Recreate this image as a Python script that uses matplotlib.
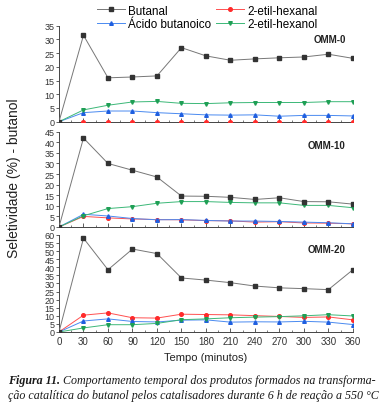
import matplotlib
matplotlib.use("Agg")
import matplotlib.pyplot as plt
from matplotlib.ticker import MultipleLocator

tempo = [0, 30, 60, 90, 120, 150, 180, 210, 240, 270, 300, 330, 360]
series_names = ["Butanal", "2-etil-hexanal", "Ácido butanoico", "2-etil-hexanol"]
panels = ["OMM-0", "OMM-10", "OMM-20"]
ymax = [35, 45, 60]

omm0_butanal = [0, 31.5, 16.0, 16.3, 16.7, 27.0, 24.0, 22.4, 22.9, 23.3, 23.6, 24.6, 23.1]
omm0_hexanal = [0, 0, 0, 0, 0, 0, 0, 0, 0, 0, 0, 0, 0]
omm0_acido = [0, 3.3, 3.9, 3.9, 3.3, 2.9, 2.5, 2.4, 2.5, 2.0, 2.3, 2.3, 2.1]
omm0_hexanol = [0, 4.3, 6.0, 7.2, 7.4, 6.7, 6.6, 6.9, 7.0, 7.0, 7.0, 7.3, 7.3]

omm10_butanal = [0, 42.0, 30.0, 26.8, 23.6, 14.6, 14.5, 14.0, 13.0, 13.8, 12.0, 11.9, 10.8]
omm10_hexanal = [0, 5.0, 4.3, 3.8, 3.5, 3.4, 3.0, 2.9, 2.3, 2.5, 1.9, 1.8, 1.5]
omm10_acido = [0, 6.0, 5.2, 4.0, 3.4, 3.5, 3.1, 2.8, 2.8, 2.6, 2.3, 2.0, 1.5]
omm10_hexanol = [0, 5.3, 8.7, 9.6, 11.2, 12.0, 12.0, 11.6, 11.4, 11.4, 10.2, 10.2, 9.1]

omm20_butanal = [0, 58.0, 38.5, 51.3, 48.5, 33.4, 32.1, 30.5, 28.4, 27.3, 26.8, 26.2, 38.5]
omm20_hexanal = [0, 10.4, 11.8, 8.8, 8.6, 11.0, 10.8, 10.6, 10.1, 9.6, 9.0, 9.3, 7.5]
omm20_acido = [0, 6.8, 8.1, 6.5, 6.2, 7.3, 7.5, 6.1, 6.3, 6.2, 6.6, 6.1, 4.6]
omm20_hexanol = [0, 2.5, 4.5, 4.5, 5.3, 7.6, 8.1, 8.8, 9.2, 9.5, 10.0, 10.7, 9.9]

data = [
    [omm0_butanal, omm0_hexanal, omm0_acido, omm0_hexanol],
    [omm10_butanal, omm10_hexanal, omm10_acido, omm10_hexanol],
    [omm20_butanal, omm20_hexanal, omm20_acido, omm20_hexanol],
]

line_colors = ["#777777", "#ff5050", "#4a8af0", "#3cb878"]
marker_colors = ["#333333", "#ff2a2a", "#1f5fe0", "#1f9f55"]
markers = ["s", "o", "^", "v"]

plt.rcParams["font.family"] = ["Liberation Sans", "DejaVu Sans"]

fig = plt.figure(figsize=(3.84, 4.14), dpi=100)
left, right = 0.1536, 0.919
boxes = [(0.7036, 0.9355), (0.4493, 0.6795), (0.1957, 0.430)]
axes = []
for i, (b, t) in enumerate(boxes):
    ax = fig.add_axes([left, b, right - left, t - b])
    axes.append(ax)
    for j in range(4):
        ax.plot(tempo, data[i][j], color=line_colors[j], lw=0.7,
                marker=markers[j], ms=2.6, mfc=marker_colors[j], mec=marker_colors[j],
                label=series_names[j], zorder=3 if j else 4)
    ax.set_xlim(0, 360)
    ax.set_ylim(0, ymax[i])
    ax.xaxis.set_major_locator(MultipleLocator(30))
    ax.xaxis.set_minor_locator(MultipleLocator(15))
    ax.yaxis.set_major_locator(MultipleLocator(5))
    for s in ["top", "right"]:
        ax.spines[s].set_visible(False)
    for s in ["left", "bottom"]:
        ax.spines[s].set_color("#444444")
        ax.spines[s].set_linewidth(0.7)
    ax.tick_params(axis="x", which="major", direction="in", length=3, width=0.6, color="#444444",
                   labelsize=7, labelcolor="#333333", pad=3)
    ax.tick_params(axis="x", which="minor", direction="in", length=1.8, width=0.5, color="#444444")
    ax.tick_params(axis="y", direction="out", length=2, width=0.6, color="#444444",
                   labelsize=6.5, labelcolor="#333333", pad=1)
    if i < 2:
        ax.tick_params(axis="x", labelbottom=False)
    ax.text(0.975, 0.86, panels[i], transform=ax.transAxes, ha="right", va="center",
            fontsize=7, fontweight="bold", color="#222222")
    ax.patch.set_alpha(0)

axes[2].set_xlabel("Tempo (minutos)", fontsize=8, color="#222222", labelpad=4)
fig.text(0.037, 0.57, "Seletividade (%) - butanol", rotation=90, ha="center", va="center",
         fontsize=10, color="#222222")

handles, labels = axes[0].get_legend_handles_labels()
order = [0, 2, 1, 3]
fig.legend([handles[k] for k in order], [labels[k] for k in order], ncol=2,
           loc="upper center", bbox_to_anchor=(0.54, 1.012), frameon=False, fontsize=8.4,
           handlelength=2.35, handletextpad=0.3, columnspacing=0.45, labelspacing=0.15)

cap_font = ["Liberation Serif", "DejaVu Serif"]
cap_size = 8.65
t1 = fig.text(0.02, 1 - 381 / 414, "Figura 11.", fontsize=cap_size, fontweight="bold", style="italic",
              family=cap_font, ha="left", va="center", color="#1a1a1a")
fig.canvas.draw()
r = fig.canvas.get_renderer()
bb = t1.get_window_extent(r)
x2 = (bb.x1 + 3) / fig.bbox.width
fig.text(x2, 1 - 381 / 414, "Comportamento temporal dos produtos formados na transforma-",
         fontsize=cap_size, style="italic", family=cap_font, ha="left", va="center", color="#1a1a1a")
fig.text(0.02, 1 - 396 / 414, "ção catalítica do butanol pelos catalisadores durante 6 h de reação a 550 °C",
         fontsize=cap_size, style="italic", family=cap_font, ha="left", va="center", color="#1a1a1a")

fig.savefig("out.png", dpi=100)
